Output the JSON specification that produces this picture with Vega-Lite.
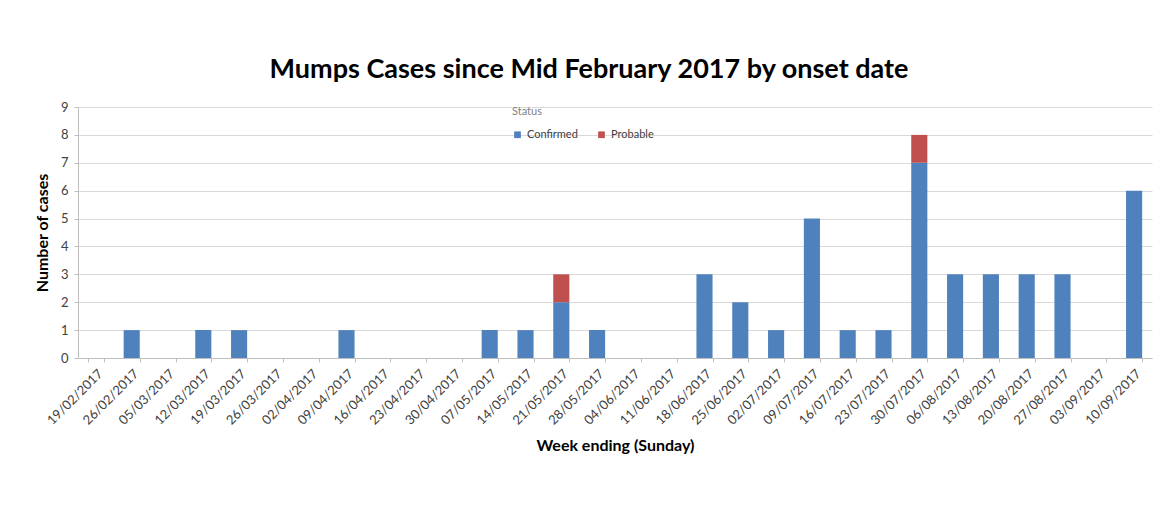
{
  "$schema": "https://vega.github.io/schema/vega-lite/v6.json",
  "autosize": {"type": "none"},
  "width": 1074,
  "height": 251,
  "padding": {"left": 78, "top": 107, "right": 13, "bottom": 150},
  "background": "white",
  "title": {
    "text": "Mumps Cases since Mid February 2017 by onset date",
    "font": "Lato",
    "fontSize": 27,
    "fontWeight": "bold",
    "color": "#000000",
    "anchor": "middle",
    "dx": -26,
    "offset": 17
  },
  "data": {
    "values": [
      {"week": "19/02/2017", "status": "Confirmed", "cases": 0},
      {"week": "26/02/2017", "status": "Confirmed", "cases": 1},
      {"week": "05/03/2017", "status": "Confirmed", "cases": 0},
      {"week": "12/03/2017", "status": "Confirmed", "cases": 1},
      {"week": "19/03/2017", "status": "Confirmed", "cases": 1},
      {"week": "26/03/2017", "status": "Confirmed", "cases": 0},
      {"week": "02/04/2017", "status": "Confirmed", "cases": 0},
      {"week": "09/04/2017", "status": "Confirmed", "cases": 1},
      {"week": "16/04/2017", "status": "Confirmed", "cases": 0},
      {"week": "23/04/2017", "status": "Confirmed", "cases": 0},
      {"week": "30/04/2017", "status": "Confirmed", "cases": 0},
      {"week": "07/05/2017", "status": "Confirmed", "cases": 1},
      {"week": "14/05/2017", "status": "Confirmed", "cases": 1},
      {"week": "21/05/2017", "status": "Confirmed", "cases": 2},
      {"week": "21/05/2017", "status": "Probable", "cases": 1},
      {"week": "28/05/2017", "status": "Confirmed", "cases": 1},
      {"week": "04/06/2017", "status": "Confirmed", "cases": 0},
      {"week": "11/06/2017", "status": "Confirmed", "cases": 0},
      {"week": "18/06/2017", "status": "Confirmed", "cases": 3},
      {"week": "25/06/2017", "status": "Confirmed", "cases": 2},
      {"week": "02/07/2017", "status": "Confirmed", "cases": 1},
      {"week": "09/07/2017", "status": "Confirmed", "cases": 5},
      {"week": "16/07/2017", "status": "Confirmed", "cases": 1},
      {"week": "23/07/2017", "status": "Confirmed", "cases": 1},
      {"week": "30/07/2017", "status": "Confirmed", "cases": 7},
      {"week": "30/07/2017", "status": "Probable", "cases": 1},
      {"week": "06/08/2017", "status": "Confirmed", "cases": 3},
      {"week": "13/08/2017", "status": "Confirmed", "cases": 3},
      {"week": "20/08/2017", "status": "Confirmed", "cases": 3},
      {"week": "27/08/2017", "status": "Confirmed", "cases": 3},
      {"week": "03/09/2017", "status": "Confirmed", "cases": 0},
      {"week": "10/09/2017", "status": "Confirmed", "cases": 6}
    ]
  },
  "mark": {"type": "bar"},
  "encoding": {
    "x": {
      "field": "week",
      "type": "nominal",
      "sort": null,
      "scale": {"paddingInner": 0.55, "paddingOuter": 0.275},
      "axis": {
        "title": "Week ending (Sunday)",
        "titleFont": "Lato",
        "titleFontSize": 16,
        "titleFontWeight": "bold",
        "titleColor": "#000000",
        "titlePadding": 10,
        "labelAngle": -45,
        "labelFont": "Lato",
        "labelFontSize": 13,
        "labelColor": "#404040",
        "labelPadding": 5,
        "tickBand": "extent",
        "tickSize": 4,
        "tickColor": "#BFBFBF",
        "domainColor": "#BFBFBF",
        "grid": false
      }
    },
    "y": {
      "field": "cases",
      "type": "quantitative",
      "aggregate": "sum",
      "stack": "zero",
      "scale": {"domain": [0, 9], "nice": false},
      "axis": {
        "title": "Number of cases",
        "titleFont": "Lato",
        "titleFontSize": 16,
        "titleFontWeight": "bold",
        "titleColor": "#000000",
        "titlePadding": 10,
        "values": [0, 1, 2, 3, 4, 5, 6, 7, 8, 9],
        "labelFont": "Lato",
        "labelFontSize": 13,
        "labelColor": "#404040",
        "labelPadding": 6,
        "tickSize": 4,
        "tickColor": "#BFBFBF",
        "domain": true,
        "domainColor": "#BFBFBF",
        "grid": true,
        "gridColor": "#D9D9D9"
      }
    },
    "color": {
      "field": "status",
      "type": "nominal",
      "scale": {"domain": ["Confirmed", "Probable"], "range": ["#4F81BD", "#C0504D"]},
      "legend": {
        "title": "Status",
        "orient": "none",
        "legendX": 434,
        "legendY": -1,
        "direction": "horizontal",
        "titleOrient": "top",
        "titleAnchor": "start",
        "titleFont": "Lato",
        "titleFontSize": 11,
        "titleFontWeight": "normal",
        "titleColor": "#7F7F7F",
        "titlePadding": 12,
        "symbolType": "square",
        "symbolSize": 45,
        "labelFont": "Lato",
        "labelFontSize": 11,
        "labelColor": "#404040",
        "columnPadding": 18
      }
    },
    "order": {"field": "status", "sort": "ascending"}
  },
  "config": {
    "view": {"stroke": null}
  }
}
